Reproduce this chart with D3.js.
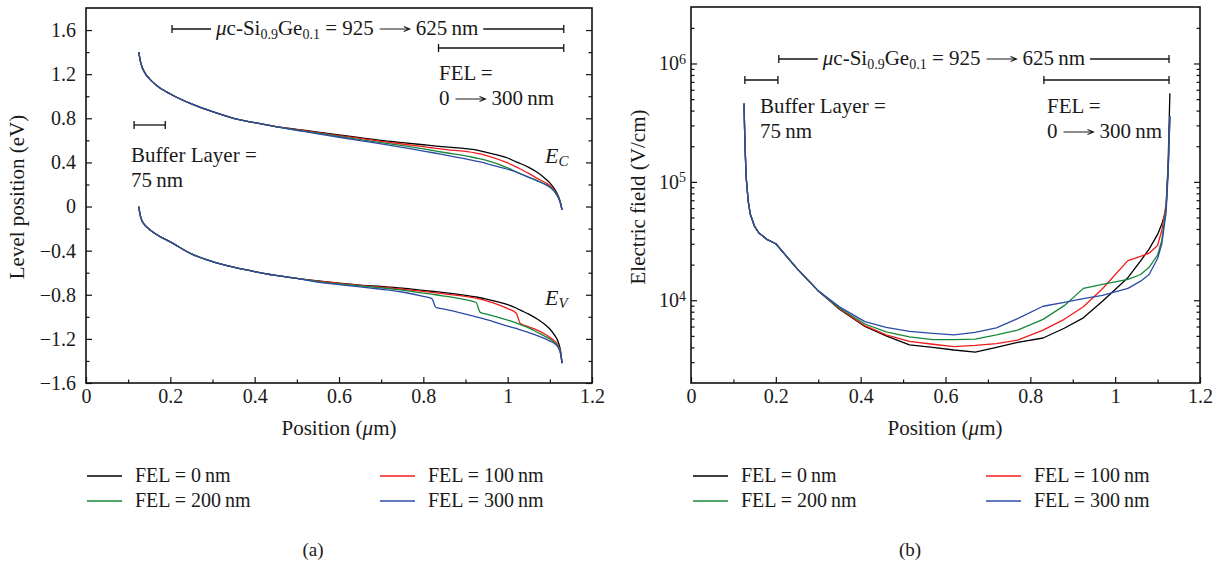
<!DOCTYPE html>
<html>
<head>
<meta charset="utf-8">
<script src="https://cdn.jsdelivr.net/npm/d3@7"></script>
<style>
body { margin: 0; background: #fff; }
svg text { font-family: "Liberation Serif", "Times New Roman", serif; fill: #1a1a1a; }
</style>
</head>
<body>
<svg id="chart" width="1219" height="567"></svg>
<script>
// ---- data ----
var seriesNames = ["FEL = 0\u2009nm", "FEL = 100\u2009nm", "FEL = 200\u2009nm", "FEL = 300\u2009nm"];
var seriesColors = ["#000000", "#f01c1c", "#17873a", "#2b4ba6"];

// (a) band edges, position in um
var posLevel = [0.125, 0.13, 0.14, 0.15, 0.17, 0.2, 0.25, 0.3, 0.35, 0.4, 0.45, 0.5, 0.55, 0.6, 0.65, 0.7, 0.75, 0.8,
    0.82, 0.83, 0.85, 0.9, 0.925, 0.935, 0.95, 1.0, 1.02, 1.03, 1.05, 1.07, 1.09, 1.1, 1.11, 1.12, 1.125, 1.129];

var ec0 = [1.40, 1.30, 1.21, 1.16, 1.09, 1.02, 0.93, 0.86, 0.80, 0.76, 0.725, 0.70, 0.675, 0.65, 0.625, 0.60, 0.58, 0.56,
    0.552, 0.548, 0.54, 0.525, 0.513, 0.505, 0.49, 0.44, 0.405, 0.39, 0.355, 0.31, 0.25, 0.215, 0.165, 0.095, 0.04, -0.03];
var ec100 = [1.40, 1.30, 1.21, 1.16, 1.09, 1.02, 0.93, 0.86, 0.80, 0.76, 0.725, 0.697, 0.67, 0.643, 0.617, 0.59, 0.567, 0.543,
    0.533, 0.528, 0.518, 0.50, 0.485, 0.477, 0.462, 0.395, 0.36, 0.34, 0.30, 0.255, 0.215, 0.19, 0.15, 0.085, 0.035, -0.03];
var ec200 = [1.40, 1.30, 1.21, 1.16, 1.09, 1.02, 0.93, 0.86, 0.80, 0.76, 0.725, 0.693, 0.665, 0.635, 0.607, 0.58, 0.552, 0.523,
    0.51, 0.503, 0.49, 0.46, 0.44, 0.432, 0.418, 0.35, 0.315, 0.297, 0.265, 0.235, 0.20, 0.18, 0.145, 0.085, 0.035, -0.03];
var ec300 = [1.40, 1.30, 1.21, 1.16, 1.09, 1.02, 0.93, 0.86, 0.80, 0.76, 0.725, 0.69, 0.66, 0.628, 0.598, 0.568, 0.536, 0.503,
    0.49, 0.483, 0.468, 0.432, 0.412, 0.404, 0.39, 0.338, 0.313, 0.298, 0.265, 0.233, 0.198, 0.175, 0.14, 0.08, 0.03, -0.03];

var ev0 = [0.0, -0.10, -0.17, -0.205, -0.26, -0.32, -0.43, -0.50, -0.55, -0.59, -0.625, -0.652, -0.675, -0.695, -0.712, -0.725, -0.74, -0.76,
    -0.768, -0.772, -0.78, -0.805, -0.82, -0.827, -0.84, -0.89, -0.92, -0.94, -0.975, -1.02, -1.075, -1.11, -1.16, -1.23, -1.30, -1.42];
var ev100 = [0.0, -0.10, -0.17, -0.205, -0.26, -0.32, -0.43, -0.50, -0.55, -0.59, -0.625, -0.652, -0.677, -0.698, -0.716, -0.732, -0.75, -0.77,
    -0.778, -0.782, -0.792, -0.815, -0.83, -0.84, -0.855, -0.925, -0.965, -1.06, -1.09, -1.12, -1.16, -1.185, -1.215, -1.26, -1.31, -1.42];
var ev200 = [0.0, -0.10, -0.17, -0.205, -0.26, -0.32, -0.43, -0.50, -0.55, -0.59, -0.625, -0.652, -0.68, -0.702, -0.72, -0.737, -0.758, -0.785,
    -0.795, -0.80, -0.812, -0.845, -0.87, -0.96, -0.975, -1.03, -1.055, -1.07, -1.10, -1.14, -1.18, -1.20, -1.23, -1.27, -1.32, -1.42];
var ev300 = [0.0, -0.10, -0.17, -0.205, -0.26, -0.32, -0.43, -0.50, -0.55, -0.59, -0.625, -0.652, -0.685, -0.708, -0.728, -0.75, -0.775, -0.815,
    -0.835, -0.915, -0.93, -0.975, -1.0, -1.01, -1.025, -1.085, -1.105, -1.118, -1.143, -1.17, -1.20, -1.22, -1.24, -1.28, -1.33, -1.42];

// (b) electric field, V/cm
var posField = [0.125, 0.127, 0.13, 0.135, 0.14, 0.15, 0.16, 0.18, 0.2, 0.25, 0.3, 0.35, 0.41, 0.46, 0.515, 0.57, 0.62, 0.67,
    0.72, 0.77, 0.83, 0.88, 0.925, 0.97, 1.03, 1.06, 1.08, 1.1, 1.11, 1.12, 1.125, 1.129];

var field0 = [4.6e5, 2.2e5, 1.1e5, 6.8e4, 5.3e4, 4.2e4, 3.7e4, 3.25e4, 3.0e4, 1.85e4, 1.2e4, 8.4e3, 6.0e3, 5.0e3, 4.2e3, 4.0e3, 3.8e3, 3.65e3,
    4.0e3, 4.4e3, 4.8e3, 5.8e3, 7.1e3, 9.8e3, 1.55e4, 2.15e4, 2.7e4, 3.6e4, 4.4e4, 5.8e4, 1.5e5, 5.6e5];
var field100 = [4.6e5, 2.2e5, 1.1e5, 6.8e4, 5.3e4, 4.2e4, 3.7e4, 3.25e4, 3.0e4, 1.85e4, 1.2e4, 8.5e3, 6.1e3, 5.1e3, 4.5e3, 4.25e3, 4.05e3, 4.15e3,
    4.3e3, 4.6e3, 5.6e3, 6.9e3, 8.8e3, 1.25e4, 2.16e4, 2.35e4, 2.5e4, 2.9e4, 3.9e4, 6.5e4, 1.3e5, 3.6e5];
var field200 = [4.6e5, 2.2e5, 1.1e5, 6.8e4, 5.3e4, 4.2e4, 3.7e4, 3.25e4, 3.0e4, 1.85e4, 1.2e4, 8.6e3, 6.3e3, 5.4e3, 4.9e3, 4.65e3, 4.65e3, 4.7e3,
    5.1e3, 5.6e3, 6.9e3, 9.0e3, 1.26e4, 1.36e4, 1.5e4, 1.65e4, 1.9e4, 2.4e4, 3.2e4, 6.0e4, 1.3e5, 3.6e5];
var field300 = [4.6e5, 2.2e5, 1.1e5, 6.8e4, 5.3e4, 4.2e4, 3.7e4, 3.25e4, 3.0e4, 1.85e4, 1.2e4, 8.8e3, 6.6e3, 5.9e3, 5.45e3, 5.25e3, 5.1e3, 5.35e3,
    5.85e3, 7.0e3, 8.9e3, 9.6e3, 1.03e4, 1.1e4, 1.26e4, 1.45e4, 1.65e4, 2.25e4, 3.0e4, 5.5e4, 1.2e5, 3.6e5];

// ticks
var posTicks = [0, 0.2, 0.4, 0.6, 0.8, 1, 1.2];
var posMinor = [0.1, 0.3, 0.5, 0.7, 0.9, 1.1];
var levelTicks = [-1.6, -1.2, -0.8, -0.4, 0, 0.4, 0.8, 1.2, 1.6];
var levelMinor = [-1.4, -1.0, -0.6, -0.2, 0.2, 0.6, 1.0, 1.4];
var fieldTicks = [1e4, 1e5, 1e6];
var fieldMinor = [3e3, 4e3, 5e3, 6e3, 7e3, 8e3, 9e3, 2e4, 3e4, 4e4, 5e4, 6e4, 7e4, 8e4, 9e4,
    2e5, 3e5, 4e5, 5e5, 6e5, 7e5, 8e5, 9e5, 2e6];

// ---- drawing ----
var svg = d3.select("#chart");
svg.append("rect").attr("width", 1219).attr("height", 567).attr("fill", "#fff");

var majorLen = 6, minorLen = 3.5;
var tickFont = 20, titleFont = 21, noteFont = 21;

var xA = d3.scaleLinear().domain([0, 1.2]).range([86, 592]);
var yA = d3.scaleLinear().domain([-1.6, 1.8]).range([383, 8]);
var xB = d3.scaleLinear().domain([0, 1.2]).range([691, 1200]);
var yB = d3.scaleLog().domain([2000, 3e6]).range([383, 7]);

function fmt(d) {
    if (d === 0) return "0";
    var s = (+d.toFixed(1)).toString();
    return s.replace("-", "\u2212");
}

function drawAxes(x, y, yMajor, yMinor, logLabels) {
    var x0 = x.range()[0], x1 = x.range()[1];
    var y0 = y.range()[0], y1 = y.range()[1];
    var g = svg.append("g");

    // bottom
    g.append("g").attr("transform", "translate(0," + y0 + ")")
        .call(d3.axisBottom(x).tickValues(posTicks).tickSizeInner(-majorLen).tickSizeOuter(0).tickPadding(6).tickFormat(fmt));
    g.append("g").attr("transform", "translate(0," + y0 + ")")
        .call(d3.axisBottom(x).tickValues(posMinor).tickSizeInner(-minorLen).tickSizeOuter(0).tickFormat(""));

    // left
    var left = g.append("g").attr("transform", "translate(" + x0 + ",0)")
        .call(d3.axisLeft(y).tickValues(yMajor).tickSizeInner(-majorLen).tickSizeOuter(0).tickPadding(logLabels ? 5 : 10)
            .tickFormat(logLabels ? "" : fmt));
    g.append("g").attr("transform", "translate(" + x0 + ",0)")
        .call(d3.axisLeft(y).tickValues(yMinor).tickSizeInner(-minorLen).tickSizeOuter(0).tickFormat(""));
    // right (mirror, no labels)
    g.append("g").attr("transform", "translate(" + x1 + ",0)")
        .call(d3.axisRight(y).tickValues(yMajor).tickSizeInner(-majorLen).tickSizeOuter(0).tickFormat(""));
    g.append("g").attr("transform", "translate(" + x1 + ",0)")
        .call(d3.axisRight(y).tickValues(yMinor).tickSizeInner(-minorLen).tickSizeOuter(0).tickFormat(""));

    if (logLabels) {
        left.selectAll(".tick text").each(function (d) {
            var t = d3.select(this).text("10");
            t.append("tspan").attr("dy", "-0.45em").attr("font-size", "14px").text(Math.round(Math.log10(d)));
        });
    }

    g.selectAll(".domain").remove();
    g.selectAll(".tick line").attr("stroke", "#111").attr("stroke-width", 1.2);
    g.selectAll(".tick text").attr("font-size", tickFont).attr("font-family", "Liberation Serif").attr("fill", "#1a1a1a");

    g.append("rect")
        .attr("x", x0).attr("y", y1)
        .attr("width", x1 - x0).attr("height", y0 - y1)
        .attr("fill", "none").attr("stroke", "#111").attr("stroke-width", 1.6);
}

function drawLines(x, y, pos, list, curve) {
    var line = d3.line()
        .x(function (d) { return x(d[0]); })
        .y(function (d) { return y(d[1]); })
        .curve(curve);
    list.forEach(function (vals, i) {
        svg.append("path")
            .datum(pos.map(function (p, k) { return [p, vals[k]]; }))
            .attr("d", line)
            .attr("fill", "none")
            .attr("stroke", seriesColors[i])
            .attr("stroke-width", 1.3)
            .attr("stroke-linejoin", "round");
    });
}

// bracket: horizontal line with end caps
function bracket(xa, xb, yy) {
    var g = svg.append("g").attr("stroke", "#111").attr("stroke-width", 1.3);
    g.append("line").attr("x1", xa).attr("x2", xb).attr("y1", yy).attr("y2", yy);
    g.append("line").attr("x1", xa).attr("x2", xa).attr("y1", yy - 4).attr("y2", yy + 4);
    g.append("line").attr("x1", xb).attr("x2", xb).attr("y1", yy - 4).attr("y2", yy + 4);
}

function label(xx, yy, txt, size) {
    return svg.append("text").attr("x", xx).attr("y", yy).attr("font-size", size || noteFont).text(txt);
}

// thin long arrow like the one in the figure, returns its end x
function arrow(xx, baseY) {
    var yy = baseY - 6, len = 30;
    svg.append("path")
        .attr("d", "M" + xx + "," + yy + "H" + (xx + len) +
            "M" + (xx + len - 6) + "," + (yy - 2.5) + "L" + (xx + len) + "," + yy + "L" + (xx + len - 6) + "," + (yy + 2.5))
        .attr("fill", "none").attr("stroke", "#1a1a1a").attr("stroke-width", 1.1);
    return xx + len;
}

// "0 -> 300 nm"
function rangeLabel(xx, yy) {
    var t = label(xx, yy, "0");
    var e = arrow(xx + t.node().getComputedTextLength() + 6, yy);
    label(e + 6, yy, "300\u2009nm");
}

// top annotation: |--- uc-Si0.9Ge0.1 = 925 -> 625 nm ---|
function layerNote(x, yy, xStart, xEnd) {
    var ax = x(xStart), bx = x(xEnd);
    var tx = ax + 44;
    var t = svg.append("text").attr("x", tx).attr("y", yy + 6).attr("font-size", noteFont);
    t.append("tspan").attr("font-style", "italic").text("\u03bc");
    t.append("tspan").text("c-Si");
    t.append("tspan").attr("font-size", 14).attr("dy", 4).text("0.9");
    t.append("tspan").attr("dy", -4).text("Ge");
    t.append("tspan").attr("font-size", 14).attr("dy", 4).text("0.1");
    t.append("tspan").attr("dy", -4).text(" = 925");
    var e = arrow(tx + t.node().getComputedTextLength() + 6, yy + 6);
    var t2 = label(e + 6, yy + 6, "625\u2009nm");
    var endX = e + 6 + t2.node().getComputedTextLength();
    var g = svg.append("g").attr("stroke", "#111").attr("stroke-width", 1.3);
    g.append("line").attr("x1", ax).attr("x2", ax + 39).attr("y1", yy).attr("y2", yy);
    g.append("line").attr("x1", ax).attr("x2", ax).attr("y1", yy - 4).attr("y2", yy + 4);
    g.append("line").attr("x1", endX + 5).attr("x2", bx).attr("y1", yy).attr("y2", yy);
    g.append("line").attr("x1", bx).attr("x2", bx).attr("y1", yy - 4).attr("y2", yy + 4);
}

function subLabel(xx, yy, main, sub) {
    var t = svg.append("text").attr("x", xx).attr("y", yy).attr("font-size", 22);
    t.append("tspan").attr("font-style", "italic").text(main);
    t.append("tspan").attr("font-style", "italic").attr("font-size", 15).attr("dy", 3).text(sub);
}

function legend(xx, yy) {
    var cols = [0, 293], rows = [0, 25];
    seriesNames.forEach(function (name, i) {
        var cx = xx + cols[i % 2], cy = yy + rows[Math.floor(i / 2)];
        svg.append("line").attr("x1", cx).attr("x2", cx + 35).attr("y1", cy).attr("y2", cy)
            .attr("stroke", seriesColors[i]).attr("stroke-width", 1.4);
        label(cx + 48, cy + 6, name, 20);
    });
}

function posTitle(xx) {
    var t = svg.append("text").attr("x", xx).attr("y", 435).attr("text-anchor", "middle").attr("font-size", titleFont);
    t.append("tspan").text("Position (");
    t.append("tspan").attr("font-style", "italic").text("\u03bc");
    t.append("tspan").text("m)");
}

// ---- panel (a) ----
drawAxes(xA, yA, levelTicks, levelMinor, false);
drawLines(xA, yA, posLevel, [ec0, ec100, ec200, ec300], d3.curveMonotoneX);
drawLines(xA, yA, posLevel, [ev0, ev100, ev200, ev300], d3.curveMonotoneX);

layerNote(xA, 29, 0.204, 1.133);
bracket(xA(0.836), xA(1.133), 48);
label(439, 80, "FEL =");
rangeLabel(439, 105);
bracket(xA(0.114), xA(0.188), 125);
label(131, 162, "Buffer Layer =");
label(131, 187, "75\u2009nm");
subLabel(545, 163, "E", "C");
subLabel(545, 305, "E", "V");

svg.append("text").attr("transform", "translate(24,197) rotate(-90)")
    .attr("text-anchor", "middle").attr("font-size", titleFont).text("Level position (eV)");
posTitle(339);
legend(87, 476);
label(313, 556, "(a)", 19).attr("text-anchor", "middle");

// ---- panel (b) ----
drawAxes(xB, yB, fieldTicks, fieldMinor, true);
drawLines(xB, yB, posField, [field0, field100, field200, field300], d3.curveLinear);

layerNote(xB, 59, 0.207, 1.127);
bracket(xB(0.127), xB(0.205), 80);
bracket(xB(0.832), xB(1.127), 80);
label(760, 113, "Buffer Layer =");
label(760, 138, "75\u2009nm");
label(1047, 113, "FEL =");
rangeLabel(1047, 138);

svg.append("text").attr("transform", "translate(645,197) rotate(-90)")
    .attr("text-anchor", "middle").attr("font-size", titleFont).text("Electric field (V/cm)");
posTitle(945);
legend(693, 476);
label(910, 556, "(b)", 19).attr("text-anchor", "middle");
</script>
</body>
</html>
